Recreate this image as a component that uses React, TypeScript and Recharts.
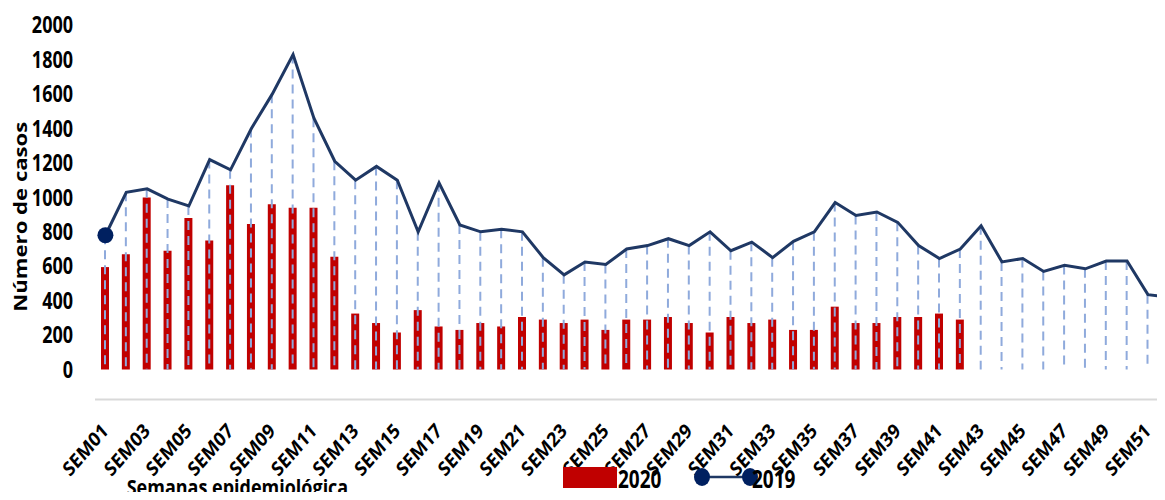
import React from 'react';
import { ComposedChart, Bar, Line, XAxis, YAxis, Legend } from 'recharts';

const weeks = [
  'SEM01', 'SEM02', 'SEM03', 'SEM04', 'SEM05', 'SEM06', 'SEM07', 'SEM08', 'SEM09', 'SEM10',
  'SEM11', 'SEM12', 'SEM13', 'SEM14', 'SEM15', 'SEM16', 'SEM17', 'SEM18', 'SEM19', 'SEM20',
  'SEM21', 'SEM22', 'SEM23', 'SEM24', 'SEM25', 'SEM26', 'SEM27', 'SEM28', 'SEM29', 'SEM30',
  'SEM31', 'SEM32', 'SEM33', 'SEM34', 'SEM35', 'SEM36', 'SEM37', 'SEM38', 'SEM39', 'SEM40',
  'SEM41', 'SEM42', 'SEM43', 'SEM44', 'SEM45', 'SEM46', 'SEM47', 'SEM48', 'SEM49', 'SEM50',
  'SEM51', 'SEM52',
];

const cases2020: (number | null)[] = [
  595, 670, 1000, 690, 880, 750, 1070, 845, 960, 940,
  940, 655, 325, 270, 215, 345, 250, 230, 270, 250,
  305, 290, 270, 290, 230, 290, 290, 305, 270, 215,
  305, 270, 290, 230, 230, 365, 270, 270, 305, 305,
  325, 290, null, null, null, null, null, null, null, null,
  null, null,
];

const cases2019: number[] = [
  780, 1030, 1050, 990, 950, 1220, 1160, 1400, 1600, 1830,
  1460, 1210, 1100, 1180, 1100, 800, 1085, 840, 800, 815,
  800, 650, 550, 625, 610, 700, 720, 760, 720, 800,
  690, 740, 650, 745, 800, 970, 895, 915, 855, 720,
  645, 700, 835, 625, 645, 570, 605, 585, 630, 630,
  435, 420,
];

const yTicks = [0, 200, 400, 600, 800, 1000, 1200, 1400, 1600, 1800, 2000];
const label2020 = '2020';
const label2019 = '2019';
const yTitle = 'Número de casos';
const xTitle = 'Semanas epidemiológica';

const data = weeks.map((w, i) => ({ week: w, c2020: cases2020[i], c2019: cases2019[i] }));

const FONT = "'Open Sans', 'Liberation Sans', sans-serif";
const RED = '#C00000';
const NAVY = '#1F3864';
const DOT = '#002060';
const DROP = '#8FAADC';

const YTick = (props: any) => {
  const { x, y, payload } = props;
  return (
    <g transform={`translate(${Number(x) - 22} ${Number(y)})`}>
      <g transform="scale(1 1.25)">
        <text x={0} y={0} dy="0.36em" textAnchor="end" fontFamily={FONT} fontWeight={700} fontSize={18} fill="#000">
          {payload.value}
        </text>
      </g>
    </g>
  );
};

const XTick = (props: any) => {
  const { x, y, payload } = props;
  return (
    <g transform={`translate(${Number(x) + 4} ${Number(y) + 32.5})`}>
      <g transform="scale(1 1.15)">
        <text x={0} y={0} transform="rotate(-45)" textAnchor="end" fontFamily={FONT} fontWeight={700} fontSize={17.5} fill="#000">
          {payload.value}
        </text>
      </g>
    </g>
  );
};

const DropLine = (props: any) => {
  const { x, y, width, height } = props;
  if (x == null || y == null) return <g />;
  const cx = x + width / 2;
  return <line x1={cx} x2={cx} y1={y} y2={y + height} stroke={DROP} strokeWidth={2} strokeDasharray="9 6" />;
};

const EndDot = (props: any) => {
  const { cx, cy, index } = props;
  if (index !== 0 && index !== weeks.length - 1) return <g key={`d${index}`} />;
  return <circle key={`d${index}`} cx={cx} cy={cy} r={8} fill={DOT} />;
};

const YTitle = () => (
  <g transform="translate(12.5 208.7)">
    <g transform="scale(1 1.23)">
      <text x={0} y={0} transform="rotate(-90)" dy="0.35em" textAnchor="middle" fontFamily={FONT} fontWeight={700} fontSize={18} fill="#000">
        {yTitle}
      </text>
    </g>
  </g>
);

const XTitle = () => (
  <g transform="translate(118.7 486.9)">
    <g transform="scale(1 1.22)">
      <text x={0} y={0} textAnchor="start" fontFamily={FONT} fontWeight={700} fontSize={18} fill="#000">
        {xTitle}
      </text>
    </g>
  </g>
);

const LegendContent = () => (
  <svg width={260} height={40} style={{ overflow: 'visible', display: 'block' }}>
    <rect x={8} y={12} width={54} height={21} fill={RED} />
    <g transform="translate(63 33.3)">
      <g transform="scale(1 1.35)">
        <text x={0} y={0} fontFamily={FONT} fontWeight={700} fontSize={19} fill="#000">{label2020}</text>
      </g>
    </g>
    <line x1={147} x2={195} y1={22} y2={22} stroke={NAVY} strokeWidth={2.5} />
    <ellipse cx={147} cy={22} rx={8} ry={9} fill={DOT} />
    <ellipse cx={195} cy={22} rx={8} ry={9} fill={DOT} />
    <g transform="translate(197 33.3)">
      <g transform="scale(1 1.35)">
        <text x={0} y={0} fontFamily={FONT} fontWeight={700} fontSize={19} fill="#000">{label2019}</text>
      </g>
    </g>
  </svg>
);

export default function App() {
  return (
    <div style={{ width: 1157, height: 492, overflow: 'hidden', marginBottom: -8, position: 'relative' }}>
      <ComposedChart
        width={1200}
        height={492}
        data={data}
        margin={{ top: 17.3, right: 28.8, left: 0, bottom: 0 }}
      >
        <XAxis
          xAxisId="main"
          dataKey="week"
          interval={1}
          tickSize={0}
          tickMargin={0}
          tickLine={false}
          tick={<XTick />}
          axisLine={{ stroke: '#D9D9D9', strokeWidth: 2 }}
          height={130.5}
          label={<XTitle />}
        />
        <XAxis xAxisId="drop" dataKey="week" hide />
        <YAxis
          domain={[0, 2000]}
          ticks={yTicks}
          width={87}
          axisLine={false}
          tickLine={false}
          tickSize={0}
          tickMargin={0}
          tick={<YTick />}
          label={<YTitle />}
        />
        <Legend
          layout="horizontal"
          verticalAlign="middle"
          align="center"
          content={<LegendContent />}
          wrapperStyle={{ position: 'absolute', left: 547, top: 447, width: 260, height: 40 }}
        />
        <Bar xAxisId="main" dataKey="c2020" name={label2020} fill={RED} barSize={8} isAnimationActive={false} />
        <Bar
          xAxisId="drop"
          dataKey="c2019"
          barSize={2}
          shape={<DropLine />}
          legendType="none"
          isAnimationActive={false}
        />
        <Line
          xAxisId="main"
          dataKey="c2019"
          name={label2019}
          stroke={NAVY}
          strokeWidth={3}
          dot={EndDot}
          activeDot={false}
          isAnimationActive={false}
        />
      </ComposedChart>
    </div>
  );
}
